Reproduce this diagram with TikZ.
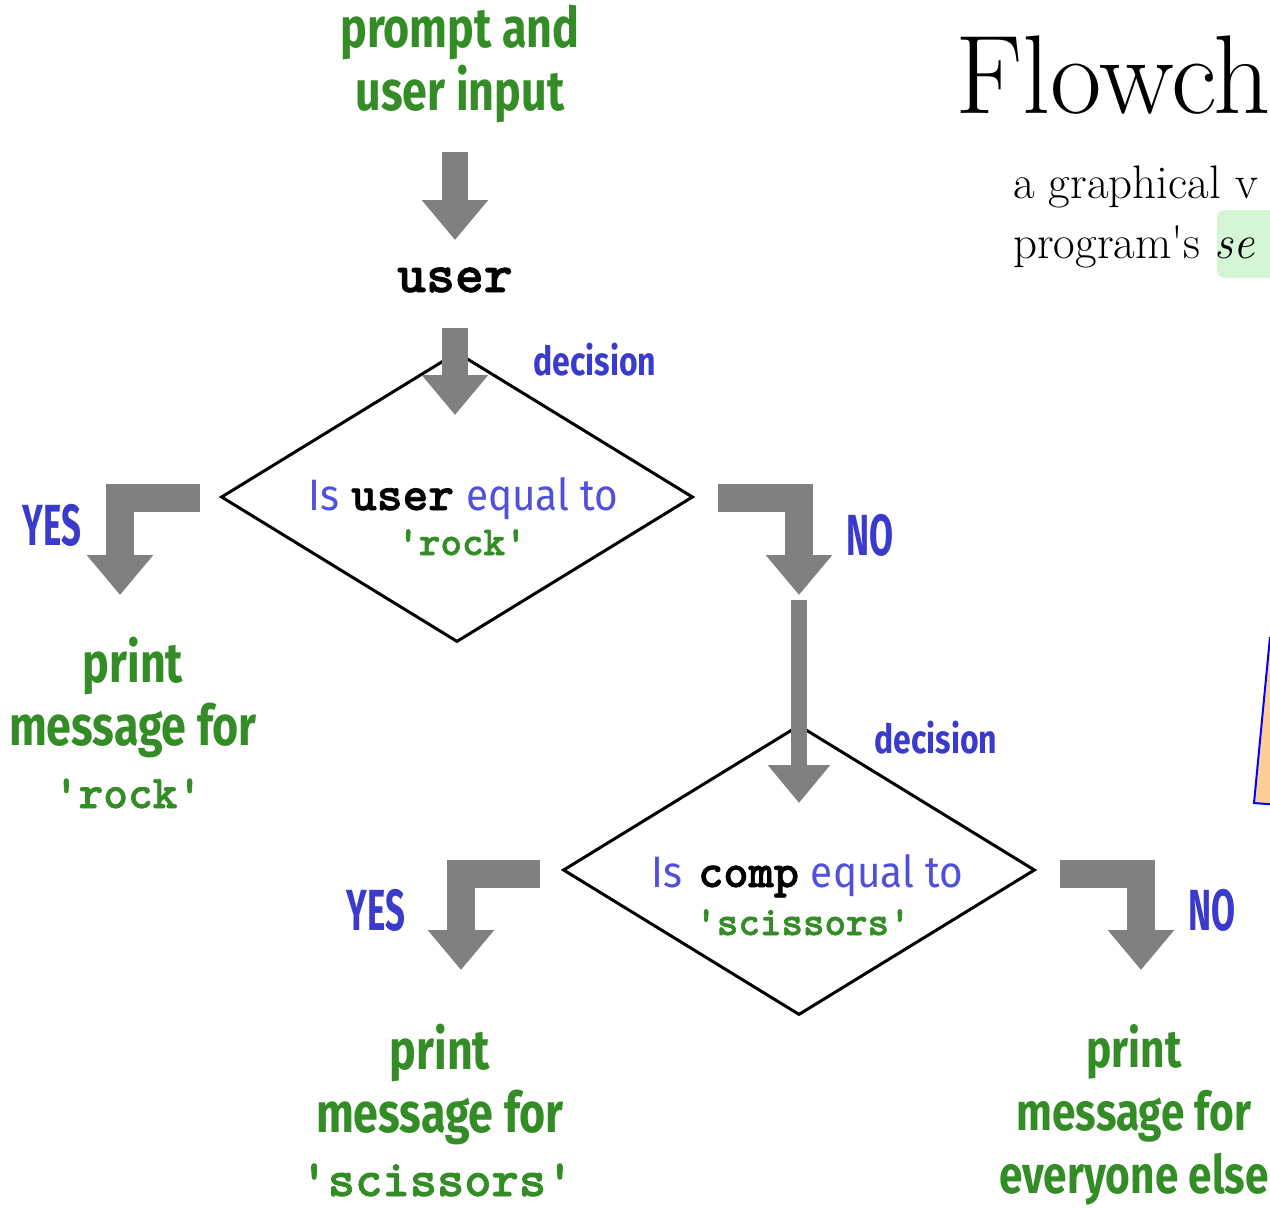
\documentclass[tikz,border=0pt]{standalone}
\usepackage{fontspec}
\usetikzlibrary{shapes.geometric,arrows.meta}
\newfontfamily\chalk{Fira Sans}[FakeStretch=0.8]
\newfontfamily\chalkn{Fira Sans}[FakeStretch=0.6]
\newfontfamily\comic{Fira Sans}[FakeStretch=0.92]
\newfontfamily\cour{lmmonolt10-bold}[Extension=.otf,FakeBold=1.5]
\newcommand\q{\textquotesingle}
\definecolor{hgreen}{RGB}{52,140,38}
\definecolor{hblue}{RGB}{58,58,205}
\definecolor{lblue}{RGB}{80,80,220}
\definecolor{agray}{RGB}{128,128,128}
\definecolor{hilite}{RGB}{212,246,212}
\definecolor{peach}{RGB}{255,205,150}
\tikzset{
  greentxt/.style={text=hgreen,font=\chalk\bfseries\fontsize{56}{63}\selectfont,align=center,inner sep=0,anchor=base},
  monotxt/.style={font=\cour\fontsize{#1}{#1}\selectfont,inner sep=0,anchor=base},
  bluelbl/.style={text=hblue,font=\chalk\bfseries\fontsize{40}{40}\selectfont,inner sep=0},
  yesno/.style={text=hblue,font=\chalkn\bfseries\fontsize{58}{58}\selectfont,inner sep=0},
  dia/.style={diamond,draw=black,line width=3pt,inner sep=0,minimum width=472pt,minimum height=290pt,line join=miter},
  blockarrow/.style={draw=agray,line width=#1,line join=miter,-{Triangle[width=64pt,length=40pt]}},
}
\begin{document}
\begin{tikzpicture}[x=1pt,y=-1pt]
\useasboundingbox (0,0) rectangle (1270,1208);
\clip (0,0) rectangle (1270,1208);
% title area
\fill[hilite,rounded corners=8pt] (1217,210) rectangle (1300,278);
\node[inner sep=0,anchor=base west,font=\fontsize{112}{112}\selectfont] (title) at (955,113) {Flowch};
\node[inner sep=0,anchor=base west,font=\fontsize{47}{47}\selectfont] (sub1) at (1013,198) {a graphical v};
\node[inner sep=0,anchor=base west,font=\fontsize{47}{47}\selectfont] (sub2) at (1013,258) {program\q s \textit{se}};
\filldraw[fill=peach,draw=blue,line width=2pt] (1270,637) -- (1254,803) -- (1280,805) -- (1280,637);
% nodes
\node[greentxt] (prompt) at (460,110) {prompt and\\user input};
\node[monotxt=55] (user) at (455,292) {user};
\node[dia] (d1) at (457,497) {};
\node[inner sep=0,anchor=base] (q1) at (463,510) {{\comic\color{lblue}\fontsize{44}{44}\selectfont Is}\hspace{12pt}{\cour\fontsize{49}{49}\selectfont user}\hspace{12pt}{\comic\color{lblue}\fontsize{44}{44}\selectfont equal to}};
\node[monotxt=41,text=hgreen] (q1b) at (462,555) {\q rock\q};
\node[bluelbl] (dec1) at (595,360) {decision};
\node[yesno] (yes1) at (52,525) {YES};
\node[yesno] (no1) at (870,535) {NO};
\node[greentxt] (p1) at (133,745) {print\\message for};
\node[monotxt=47,text=hgreen] (p1b) at (128,808) {\q rock\q};
\node[dia] (d2) at (799,870) {};
\node[inner sep=0,anchor=base] (q2) at (807,887) {{\comic\color{lblue}\fontsize{44}{44}\selectfont Is}\hspace{16pt}{\cour\fontsize{48}{48}\selectfont comp}\hspace{12pt}{\comic\color{lblue}\fontsize{44}{44}\selectfont equal to}};
\node[monotxt=41,text=hgreen] (q2b) at (803,935) {\q scissors\q};
\node[bluelbl] (dec2) at (936,738) {decision};
\node[yesno] (yes2) at (376,910) {YES};
\node[yesno] (no2) at (1212,910) {NO};
\node[greentxt] (p2) at (440,1132) {print\\message for};
\node[monotxt=52,text=hgreen] (p2b) at (437,1196) {\q scissors\q};
\node[greentxt,font=\chalk\bfseries\fontsize{53}{63}\selectfont] (p3) at (1134,1193) {print\\message for\\everyone else};
% connectors
\coordinate (a1s) at (455,152); \coordinate (a1e) at (455,240);
\coordinate (a2s) at (455,328); \coordinate (a2e) at (455,415);
\coordinate (y1s) at (200,498); \coordinate (y1e) at (120,595);
\coordinate (n1s) at (718,498); \coordinate (n1e) at (799,595);
\coordinate (ls) at (799,600); \coordinate (le) at (799,803);
\coordinate (y2s) at (540,874); \coordinate (y2e) at (461,970);
\coordinate (n2s) at (1060,874); \coordinate (n2e) at (1141,970);
\draw[blockarrow=26pt] (a1s) -- (a1e);
\draw[blockarrow=26pt] (a2s) -- (a2e);
\draw[blockarrow=28pt] (y1s) -| (y1e);
\draw[blockarrow=28pt] (n1s) -| (n1e);
\draw[draw=agray,line width=16pt,-{Triangle[width=60pt,length=38pt]}] (ls) -- (le);
\draw[blockarrow=28pt] (y2s) -| (y2e);
\draw[blockarrow=28pt] (n2s) -| (n2e);
\end{tikzpicture}
\end{document}
